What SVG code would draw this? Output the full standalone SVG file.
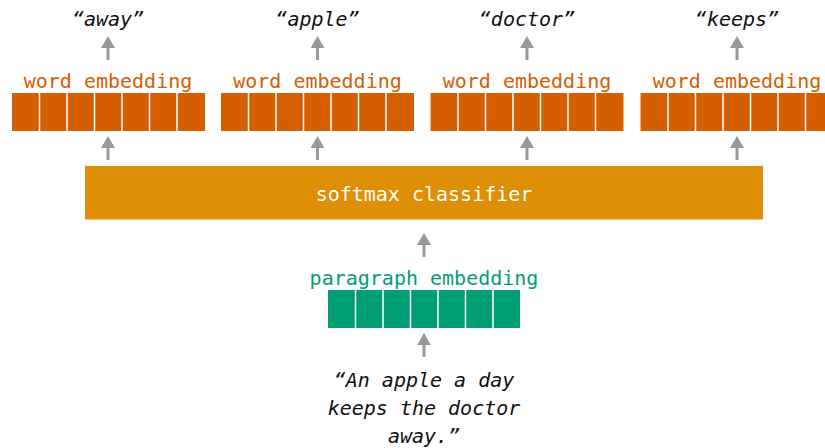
<svg xmlns="http://www.w3.org/2000/svg" width="825" height="448" viewBox="0 0 825 448">
<style>
text{font-family:"DejaVu Sans Mono","Liberation Mono",monospace;font-size:20px;text-anchor:middle}
.q{fill:#111;font-style:italic}
.wl{fill:#D55E00}
.wb{fill:#D55E00}
.pl{fill:#029E73}
.pb{fill:#029E73}
.div{stroke:#fff;stroke-width:1.5}
.ar{stroke:#999;stroke-width:3;fill:none}
.ah{fill:#999}
</style>
<defs>
<g id="cells">
<line class="div" x1="27.5" y1="0" x2="27.5" y2="38"/>
<line class="div" x1="55" y1="0" x2="55" y2="38"/>
<line class="div" x1="82.5" y1="0" x2="82.5" y2="38"/>
<line class="div" x1="110" y1="0" x2="110" y2="38"/>
<line class="div" x1="137.5" y1="0" x2="137.5" y2="38"/>
<line class="div" x1="165" y1="0" x2="165" y2="38"/>
</g>
<g id="arrow">
<line class="ar" x1="0" y1="10" x2="0" y2="24"/>
<polygon class="ah" points="-7,12 0,0 7,12"/>
</g>
</defs>

<g id="word1">
<text class="q" x="108" y="26">“away”</text>
<text class="wl" x="108" y="88">word embedding</text>
<rect class="wb" x="12" y="93" width="193" height="38"/>
<use href="#cells" x="12" y="93"/>
</g>
<g id="word2">
<text class="q" x="317.5" y="26">“apple”</text>
<text class="wl" x="317.5" y="88">word embedding</text>
<rect class="wb" x="221" y="93" width="193" height="38"/>
<use href="#cells" x="221" y="93"/>
</g>
<g id="word3">
<text class="q" x="527" y="26">“doctor”</text>
<text class="wl" x="527" y="88">word embedding</text>
<rect class="wb" x="430.5" y="93" width="193" height="38"/>
<use href="#cells" x="430.5" y="93"/>
</g>
<g id="word4">
<text class="q" x="737" y="26">“keeps”</text>
<text class="wl" x="737" y="88">word embedding</text>
<rect class="wb" x="640.5" y="93" width="193" height="38"/>
<use href="#cells" x="640.5" y="93"/>
</g>

<g id="softmax">
<rect x="85" y="166" width="678" height="53.5" fill="#DE8F05"/>
<text x="424" y="201" fill="#fff">softmax classifier</text>
</g>

<g id="paragraph">
<text class="pl" x="424" y="285">paragraph embedding</text>
<rect class="pb" x="328" y="290" width="192" height="38"/>
<use href="#cells" x="328" y="290"/>
</g>

<g id="sentence">
<text class="q" x="424" y="387">“An apple a day</text>
<text class="q" x="424" y="415">keeps the doctor</text>
<text class="q" x="424" y="443">away.”</text>
</g>

<g id="connectors">
<use href="#arrow" x="108" y="36"/>
<use href="#arrow" x="317.5" y="36"/>
<use href="#arrow" x="527" y="36"/>
<use href="#arrow" x="737" y="36"/>
<use href="#arrow" x="108" y="136"/>
<use href="#arrow" x="317.5" y="136"/>
<use href="#arrow" x="527" y="136"/>
<use href="#arrow" x="737" y="136"/>
<use href="#arrow" x="424" y="233"/>
<use href="#arrow" x="424" y="333"/>
</g>
</svg>
